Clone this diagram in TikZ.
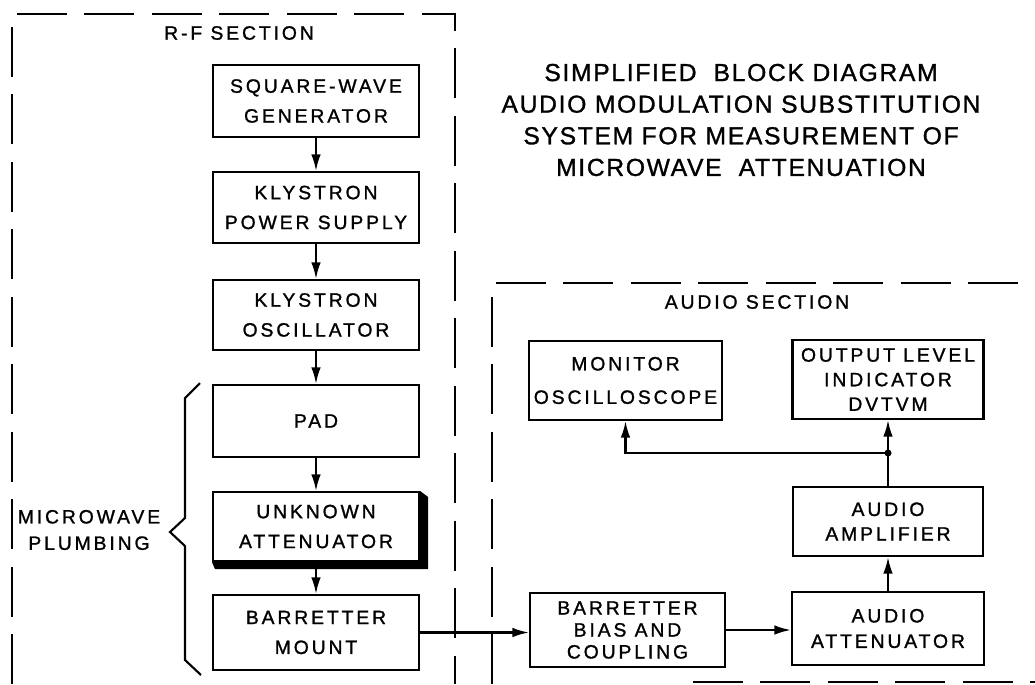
\documentclass[tikz,border=0pt]{standalone}
\usepackage{fontspec}
\usepackage{tikz}
\usetikzlibrary{arrows.meta}
\newfontfamily\lblfont[LetterSpace=15, FakeBold=1.2]{Liberation Sans}
\newfontfamily\ttlfont[LetterSpace=7, FakeBold=1.2]{Liberation Sans}

\begin{document}
\begin{tikzpicture}[x=0.02cm, y=-0.02cm, >={Latex[length=3.3mm, width=1.9mm]}, line width=1.2pt,
    blk/.style={draw, fill=white, align=center, inner sep=0pt, font=\lblfont\fontsize{11}{17}\selectfont},
    size/.style 2 args={minimum width=#1, minimum height=#2},
    section/.style={line width=1.2pt, dash pattern=on 1cm off 0.35cm},
    flow/.style={->}]
            \useasboundingbox (0,0) rectangle (1035,684);

            % dashed sections
            \draw[section] (12,684) -- (12,14) -- (455,14) -- (455,684);
            \draw[section] (492,684) -- (492,283) -- (1035,283);
            \draw[section] (693,682) -- (1035,682);
            \node[font=\lblfont\fontsize{11}{14}\selectfont] (rflbl) at (239,33) {R-F SECTION};
            \node[font=\lblfont\fontsize{11}{14}\selectfont] (aflbl) at (757,302) {AUDIO SECTION};

            \node[font=\ttlfont\fontsize{14}{18}\selectfont, align=center] (title) at (741,120)
              {SIMPLIFIED\ \ BLOCK DIAGRAM\\AUDIO MODULATION SUBSTITUTION\\SYSTEM FOR MEASUREMENT OF\\MICROWAVE\ \ ATTENUATION};

            % r-f chain
            \node[blk, size={4.12cm}{1.44cm}] (sqw) at (316,101) {SQUARE-WAVE\\GENERATOR};
            \node[blk, size={4.12cm}{1.42cm}] (kps) at (316,207.5) {KLYSTRON\\POWER SUPPLY};
            \node[blk, size={4.12cm}{1.40cm}] (kos) at (316,315) {KLYSTRON\\OSCILLATOR};
            \node[blk, size={4.12cm}{1.44cm}] (pad) at (316,421) {PAD};
            \node[blk, size={4.12cm}{1.38cm}] (unk) at (316,526.5) {UNKNOWN\\ATTENUATOR};
            \node[blk, size={4.12cm}{1.50cm}] (bmt) at (316,632.5) {BARRETTER\\MOUNT};
            \fill (unk.north east) -- ([shift={(8,6)}]unk.north east) -- ([shift={(8,7)}]unk.south east)
              -- ([shift={(3,7)}]unk.south west) -- (unk.south west) -- (unk.south east) -- cycle;

            % brace
            \draw (200,383) -- (185,398) -- (185,518) -- (170,532) -- (185,546) -- (185,660) -- (201,675);
            \node[font=\lblfont\fontsize{11}{15}\selectfont, align=center] (mwp) at (89,530) {MICROWAVE\\PLUMBING};

            % audio chain
            \node[blk, size={3.90cm}{1.48cm}, font=\lblfont\fontsize{11}{12.5}\selectfont] (bbc) at (627.5,630) {BARRETTER\\BIAS AND\\COUPLING};
            \node[blk, size={3.84cm}{1.46cm}, font=\lblfont\fontsize{11}{14.5}\selectfont] (att) at (888,628.5) {AUDIO\\ATTENUATOR};
            \node[blk, size={3.80cm}{1.38cm}, font=\lblfont\fontsize{11}{14}\selectfont] (amp) at (888,521.5) {AUDIO\\AMPLIFIER};
            \node[blk, size={3.82cm}{1.58cm}, font=\lblfont\fontsize{11}{14}\selectfont] (oli) at (888,379.5) {OUTPUT LEVEL\\INDICATOR\\DVTVM};
            \node[blk, size={3.86cm}{1.58cm}, font=\lblfont\fontsize{11}{19}\selectfont] (mon) at (625.5,380.5) {MONITOR\\OSCILLOSCOPE};
            \coordinate (jn) at (888,453);

            \path
            (sqw) edge[flow] (kps)
            (kps) edge[flow] (kos)
            (kos) edge[flow] (pad)
            (pad) edge[flow] (unk)
            (unk) edge[flow] (bmt)
            (bmt.east) edge[flow] (bmt.east -| bbc.west)
            (bbc.east) edge[flow] (bbc.east -| att.west)
            (att) edge[flow] (amp)
            (amp) edge (jn)
            (jn) edge[flow] (oli);
            \draw[flow] (jn) -| (mon.south);
            \fill (jn) circle (0.07cm);

        \end{tikzpicture}
\end{document}
